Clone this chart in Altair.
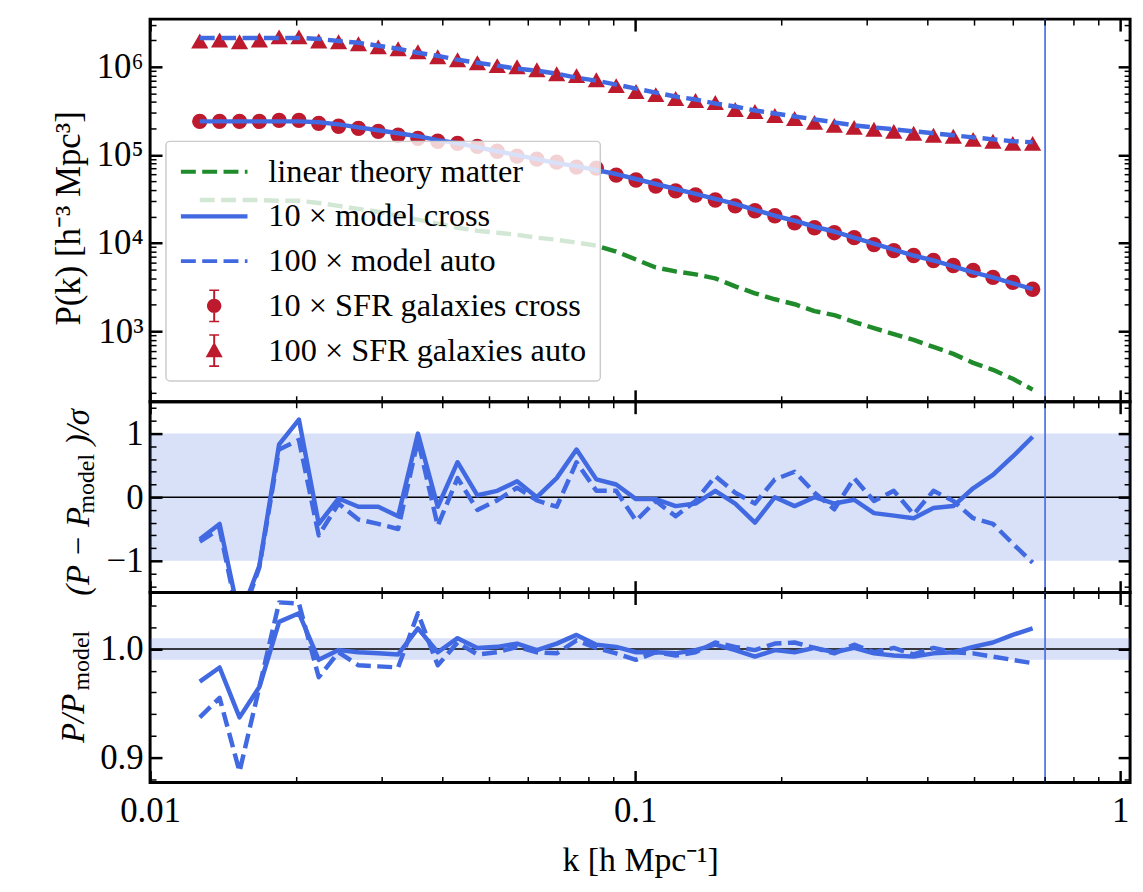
import altair as alt
import pandas as pd

# ---------------- data ----------------
k = [0.01266, 0.01391, 0.01529, 0.01680, 0.01845, 0.02027, 0.02227, 0.02447, 0.02689,
     0.02954, 0.03246, 0.03566, 0.03918, 0.04304, 0.04729, 0.05196, 0.05709, 0.06272,
     0.06891, 0.07571, 0.08318, 0.09140, 0.1004, 0.1103, 0.1212, 0.1332, 0.1463, 0.1608,
     0.1766, 0.1941, 0.2132, 0.2343, 0.2574, 0.2828, 0.3107, 0.3414, 0.3751, 0.4121,
     0.4528, 0.4975, 0.5466, 0.6006, 0.6599]

auto_data = [1.96e6, 2.01e6, 1.92e6, 2.01e6, 2.18e6, 2.18e6, 1.96e6, 1.92e6, 1.82e6, 1.68e6,
             1.60e6, 1.48e6, 1.30e6, 1.20e6, 1.11e6, 1.03e6, 1.00e6, 9.25e5, 8.34e5, 7.92e5,
             7.13e5, 6.11e5, 5.23e5, 4.83e5, 4.36e5, 4.14e5, 3.93e5, 3.27e5, 3.11e5, 2.80e5,
             2.59e5, 2.34e5, 2.16e5, 2.05e5, 1.95e5, 1.85e5, 1.76e5, 1.67e5, 1.63e5, 1.50e5,
             1.43e5, 1.35e5, 1.35e5]
auto_model = [2.12e6, 2.12e6, 2.12e6, 2.12e6, 2.12e6, 2.12e6, 2.07e6, 1.96e6, 1.87e6, 1.73e6,
              1.60e6, 1.44e6, 1.33e6, 1.20e6, 1.11e6, 1.03e6, 9.49e5, 9.01e5, 8.34e5, 7.52e5,
              6.95e5, 6.27e5, 5.65e5, 5.09e5, 4.59e5, 4.25e5, 3.83e5, 3.54e5, 3.19e5, 2.95e5,
              2.73e5, 2.53e5, 2.34e5, 2.16e5, 2.05e5, 1.95e5, 1.85e5, 1.76e5, 1.67e5, 1.58e5,
              1.50e5, 1.43e5, 1.39e5]
cross_data = [2.40e5, 2.40e5, 2.40e5, 2.40e5, 2.46e5, 2.46e5, 2.28e5, 2.11e5, 2.00e5, 1.85e5,
              1.67e5, 1.54e5, 1.43e5, 1.35e5, 1.25e5, 1.10e5, 9.67e4, 8.95e4, 8.27e4, 7.27e4,
              7.08e4, 5.90e4, 5.19e4, 4.44e4, 3.90e4, 3.51e4, 3.08e4, 2.64e4, 2.32e4, 2.04e4,
              1.70e4, 1.49e4, 1.31e4, 1.15e4, 9.60e3, 8.20e3, 7.21e3, 6.34e3, 5.56e3, 4.89e3,
              4.08e3, 3.58e3, 2.99e3]
cross_model = [2.40e5, 2.40e5, 2.40e5, 2.40e5, 2.40e5, 2.40e5, 2.34e5, 2.22e5, 2.05e5, 1.90e5,
               1.76e5, 1.63e5, 1.47e5, 1.36e5, 1.22e5, 1.10e5, 9.93e4, 8.95e4, 8.06e4, 7.46e4,
               6.72e4, 6.06e4, 5.32e4, 4.67e4, 4.10e4, 3.61e4, 3.17e4, 2.78e4, 2.38e4, 2.04e4,
               1.79e4, 1.53e4, 1.35e4, 1.15e4, 9.84e3, 8.43e3, 7.21e3, 6.34e3, 5.42e3, 4.64e3,
               4.08e3, 3.49e3, 2.99e3]
lin_theory = [3.08e4, 3.08e4, 3.08e4, 3.08e4, 3.01e4, 3.01e4, 2.85e4, 2.64e4, 2.44e4, 2.26e4,
              2.04e4, 1.84e4, 1.66e4, 1.49e4, 1.38e4, 1.31e4, 1.24e4, 1.15e4, 1.09e4, 1.01e4,
              9.35e3, 8.00e3, 6.50e3, 5.28e3, 4.76e3, 4.41e3, 3.97e3, 3.22e3, 2.69e3, 2.30e3,
              2.02e3, 1.69e3, 1.52e3, 1.27e3, 1.08e3, 9.27e2, 7.94e2, 6.62e2, 5.52e2, 4.37e2,
              3.64e2, 2.88e2, 2.17e2]

sig_cross = [-0.66, -0.42, -1.9, -1.08, 0.83, 1.22, -0.42, -0.02, -0.15, -0.15, -0.3, 1.0,
             -0.15, 0.55, 0.03, 0.1, 0.25, 0.0, 0.3, 0.75, 0.28, 0.2, -0.03, -0.03, -0.14,
             -0.1, 0.1, -0.1, -0.4, 0.0, -0.14, 0.0, -0.1, -0.04, -0.25, -0.29, -0.33, -0.17,
             -0.14, 0.14, 0.35, 0.64, 0.95]
sig_auto = [-0.7, -0.5, -2.0, -1.1, 0.75, 0.9, -0.6, -0.1, -0.35, -0.42, -0.5, 0.9, -0.45,
            0.3, -0.2, -0.05, 0.15, -0.05, -0.15, 0.55, 0.1, 0.1, -0.37, -0.06, -0.3, -0.06,
            0.33, 0.07, -0.1, 0.28, 0.4, 0.07, -0.19, 0.3, -0.06, 0.1, -0.27, 0.1, -0.06,
            -0.33, -0.42, -0.73, -1.03]
ratio_cross = [0.970, 0.983, 0.937, 0.965, 1.025, 1.033, 0.990, 0.999, 0.997, 0.996, 0.995,
               1.019, 0.997, 1.010, 1.001, 1.002, 1.005, 0.999, 1.005, 1.013, 1.004, 1.002,
               0.997, 0.997, 0.996, 0.999, 1.004, 0.999, 0.993, 0.999, 0.997, 1.001, 0.997,
               1.001, 0.996, 0.994, 0.993, 0.996, 0.997, 1.002, 1.006, 1.013, 1.019]
ratio_auto = [0.937, 0.955, 0.887, 0.965, 1.043, 1.042, 0.974, 0.997, 0.985, 0.984, 0.983,
              1.033, 0.985, 1.006, 0.995, 0.997, 1.002, 0.997, 0.996, 1.008, 1.001, 0.996,
              0.990, 0.997, 0.994, 0.997, 1.006, 1.002, 0.999, 1.005, 1.006, 1.001, 0.996,
              1.004, 0.997, 1.001, 0.995, 1.001, 0.997, 0.996, 0.993, 0.990, 0.987]

k_cut = [0.7]
band_sigma = [-1.0, 1.0]
band_ratio = [0.99, 1.01]

series = ["linear theory matter", "10 × model cross", "100 × model auto",
          "10 × SFR galaxies cross", "100 × SFR galaxies auto"]

# tick values and labels
x_domain = [0.01, 1.048]
x_major = [0.01, 0.1, 1.0]
x_major_labels = ["0.01", "0.1", "1"]
x_minor = [0.02, 0.03, 0.04, 0.05, 0.06, 0.07, 0.08, 0.09, 0.2, 0.3, 0.4, 0.5, 0.6, 0.7, 0.8, 0.9]

top_domain = [158, 3.47e6]
top_major = [1e3, 1e4, 1e5, 1e6]
top_major_labels = ["10³", "10⁴", "10⁵", "10⁶"]
top_minor = [200, 300, 400, 500, 600, 700, 800, 900,
             2e3, 3e3, 4e3, 5e3, 6e3, 7e3, 8e3, 9e3,
             2e4, 3e4, 4e4, 5e4, 6e4, 7e4, 8e4, 9e4,
             2e5, 3e5, 4e5, 5e5, 6e5, 7e5, 8e5, 9e5, 2e6, 3e6]

mid_domain = [-1.5, 1.5]
mid_major = [-1, 0, 1]
mid_major_labels = ["−1", "0", "1"]
mid_minor = [-1.4, -1.2, -0.8, -0.6, -0.4, -0.2, 0.2, 0.4, 0.6, 0.8, 1.2, 1.4]

bot_domain = [0.877, 1.052]
bot_major = [0.9, 1.0]
bot_major_labels = ["0.9", "1.0"]
bot_minor = [0.88, 0.92, 0.94, 0.96, 0.98, 1.02, 1.04]

# ---------------- styling ----------------
FONT = "Liberation Serif"
BLUE = "#4169e1"
RED = "#bd1a2d"
GREEN = "#1f8b2a"
W = 986
H_TOP, H_MID, H_BOT = 385, 192, 191
DASH = [15, 6.5]

# legend symbols (unit = half of sqrt(symbolSize) = 16.5 px)
DASH_PATH = ("M-2.03,-0.12H-1.12V0.12H-2.03Z M-0.73,-0.12H0.18V0.12H-0.73Z "
             "M0.57,-0.12H1.48V0.12H0.57Z M1.87,-0.12H2.03V0.12H1.87Z")
SOLID_PATH = "M-2.03,-0.13H2.03V0.13H-2.03Z"
ERR_PATH = ("M-0.06,-0.95H0.06V0.95H-0.06Z M-0.3,-1.0H0.3V-0.9H-0.3Z "
            "M-0.3,0.9H0.3V1.0H-0.3Z")
CIRC_PATH = "M0.44,0A0.44,0.44 0 1,1 -0.44,0A0.44,0.44 0 1,1 0.44,0Z " + ERR_PATH
TRI_PATH = "M0,-0.52L0.52,0.4H-0.52Z " + ERR_PATH

xs = alt.Scale(type="log", domain=x_domain, nice=False)
ys_top = alt.Scale(type="log", domain=top_domain, nice=False)
ys_mid = alt.Scale(type="linear", domain=mid_domain, nice=False, zero=False)
ys_bot = alt.Scale(type="linear", domain=bot_domain, nice=False, zero=False)


def label_expr(vals, labs):
    expr = "''"
    for v, lab in reversed(list(zip(vals, labs))):
        expr = f"datum.value == {v!r} ? '{lab}' : ({expr})"
    return expr


def frame(cols):
    return pd.DataFrame(cols)


def axis(orient, values, major, labels=None, **kw):
    size = 12 if major else 6
    a = dict(orient=orient, values=values, tickSize=size, tickWidth=2.5 if major else 1.5,
             tickColor="black", offset=-size, domain=False, grid=False, zindex=1,
             labels=False, title=None)
    if labels is not None:
        a.update(labels=True, labelExpr=label_expr(values, labels), labelFont=FONT,
                 labelFontSize=35, labelColor="black", labelOverlap=False, labelFlush=False,
                 labelPadding=7 if orient in ("left", "right") else 11, labelBound=False)
    a.update(kw)
    return alt.Axis(**a)


def axis_layers(ys, y_major, y_major_labels, y_minor, anchor_v, x_labels,
                left_major_kw, left_minor_kw, right_major_kw, x_kw):
    anchor = frame({"k": [0.1], "v": [anchor_v]})
    specs = [
        (axis("bottom", x_major, True, x_major_labels if x_labels else None, **x_kw),
         axis("left", y_major, True, y_major_labels, **left_major_kw)),
        (axis("bottom", x_minor, False), axis("left", y_minor, False, **left_minor_kw)),
        (axis("top", x_major, True), axis("right", y_major, True, **right_major_kw)),
        (axis("top", x_minor, False), axis("right", y_minor, False)),
    ]
    return [alt.Chart(anchor).mark_point(opacity=0).encode(
        x=alt.X("k:Q", scale=xs, axis=ax), y=alt.Y("v:Q", scale=ys, axis=ay))
        for ax, ay in specs]


def title_kw(text, size, tx, ty, style="normal"):
    return dict(title=text, titleFont=FONT, titleFontSize=size, titleFontWeight="normal",
                titleFontStyle=style, titleColor="black", titleAngle=270, titleX=tx,
                titleY=ty, titleBaseline="middle", titleAlign="center")


def line(df, field, ys, color, dash=None, width=4.5):
    props = dict(color=color, strokeWidth=width, clip=True, strokeJoin="round")
    if dash:
        props["strokeDash"] = dash
    return alt.Chart(df).mark_line(**props).encode(
        x=alt.X("k:Q", scale=xs, axis=None), y=alt.Y(f"{field}:Q", scale=ys, axis=None))


def vline():
    return alt.Chart(frame({"k": k_cut})).mark_rule(color=BLUE, strokeWidth=1.6).encode(
        x=alt.X("k:Q", scale=xs, axis=None))


# ---------------- top panel ----------------
df_top = frame({"k": k, "auto_data": auto_data, "auto_model": auto_model,
                "cross_data": cross_data, "cross_model": cross_model, "lin": lin_theory})

pts_cross = alt.Chart(df_top).mark_point(filled=True, shape="circle", size=240, color=RED,
                                         opacity=1, strokeWidth=0).encode(
    x=alt.X("k:Q", scale=xs, axis=None), y=alt.Y("cross_data:Q", scale=ys_top, axis=None))
pts_auto = alt.Chart(df_top).mark_point(filled=True, shape="triangle-up", size=300, color=RED,
                                        opacity=1, strokeWidth=0).encode(
    x=alt.X("k:Q", scale=xs, axis=None), y=alt.Y("auto_data:Q", scale=ys_top, axis=None))

legend = alt.Legend(title=None, orient="none", legendX=16, legendY=123,
                    fillColor="rgba(255,255,255,0.8)", strokeColor="#cccccc",
                    cornerRadius=4, padding=14, labelFont=FONT, labelFontSize=32.5,
                    labelColor="black", labelOffset=38, labelLimit=0, rowPadding=12,
                    symbolSize=1089, symbolOffset=18, symbolStrokeWidth=0, symbolOpacity=1,
                    zindex=2)
df_leg = frame({"series": series, "k": [0.1] * 5, "v": [1e4] * 5})
leg_layer = alt.Chart(df_leg).transform_filter("false").mark_point(
    filled=True, size=1089, opacity=1).encode(
    x=alt.X("k:Q", scale=xs, axis=None), y=alt.Y("v:Q", scale=ys_top, axis=None),
    fill=alt.Fill("series:N", scale=alt.Scale(domain=series,
                                              range=[GREEN, BLUE, BLUE, RED, RED]),
                  legend=legend),
    shape=alt.Shape("series:N", scale=alt.Scale(domain=series,
                                                range=[DASH_PATH, SOLID_PATH, DASH_PATH,
                                                       CIRC_PATH, TRI_PATH]),
                    legend=legend))

top = alt.layer(
    line(df_top, "lin", ys_top, GREEN, DASH),
    pts_cross, pts_auto,
    line(df_top, "cross_model", ys_top, BLUE),
    line(df_top, "auto_model", ys_top, BLUE, DASH),
    vline(),
    leg_layer,
    *axis_layers(ys_top, top_major, top_major_labels, top_minor, 1e4, False,
                 title_kw("P(k)  [h⁻³ Mpc³]", 35, -94, 200), {}, {}, {}),
).resolve_axis(x="independent", y="independent").properties(width=W, height=H_TOP)

# ---------------- middle panel ----------------
df_mid = frame({"k": k, "c": sig_cross, "a": sig_auto})
band_mid = alt.Chart(frame({"lo": [band_sigma[0]], "hi": [band_sigma[1]]})).mark_rect(
    color=BLUE, opacity=0.2).encode(y=alt.Y("lo:Q", scale=ys_mid, axis=None), y2="hi:Q")
zero_mid = alt.Chart(frame({"v": [0]})).mark_rule(color="black", strokeWidth=1.5).encode(
    y=alt.Y("v:Q", scale=ys_mid, axis=None))
mid = alt.layer(
    band_mid, zero_mid,
    line(df_mid, "c", ys_mid, BLUE),
    line(df_mid, "a", ys_mid, BLUE, DASH),
    vline(),
    *axis_layers(ys_mid, mid_major, mid_major_labels, mid_minor, 0, False,
                 title_kw("(P − P", 33, -84, 150, "italic"),
                 title_kw("model", 24, -70, 82),
                 title_kw(")/σ", 33, -1046, 25, "italic"), {}),
).resolve_axis(x="independent", y="independent").properties(width=W, height=H_MID)

# ---------------- bottom panel ----------------
df_bot = frame({"k": k, "c": ratio_cross, "a": ratio_auto})
band_bot = alt.Chart(frame({"lo": [band_ratio[0]], "hi": [band_ratio[1]]})).mark_rect(
    color=BLUE, opacity=0.2).encode(y=alt.Y("lo:Q", scale=ys_bot, axis=None), y2="hi:Q")
one_bot = alt.Chart(frame({"v": [1.0]})).mark_rule(color="black", strokeWidth=1.5).encode(
    y=alt.Y("v:Q", scale=ys_bot, axis=None))
bot = alt.layer(
    band_bot, one_bot,
    line(df_bot, "c", ys_bot, BLUE),
    line(df_bot, "a", ys_bot, BLUE, DASH),
    vline(),
    *axis_layers(ys_bot, bot_major, bot_major_labels, bot_minor, 1.0, True,
                 title_kw("P/P", 33, -89, 126, "italic"),
                 title_kw("model", 24, -75, 68), {},
                 dict(title="k [h Mpc⁻¹]", titleFont=FONT, titleFontSize=34,
                      titleFontWeight="normal", titleColor="black", titleY=91,
                      titleBaseline="middle")),
).resolve_axis(x="independent", y="independent").properties(width=W, height=H_BOT)

chart = alt.vconcat(top, mid, bot, spacing=0, bounds="flush").resolve_scale(
    fill="independent", shape="independent").properties(
    padding={"left": 50, "top": 13.5, "right": 10, "bottom": 12},
    background="white").configure(font=FONT).configure_view(
    stroke="black", strokeWidth=3).configure_legend(strokeWidth=1.5)

chart.save("out.html", embed_options={"renderer": "svg", "actions": False})
